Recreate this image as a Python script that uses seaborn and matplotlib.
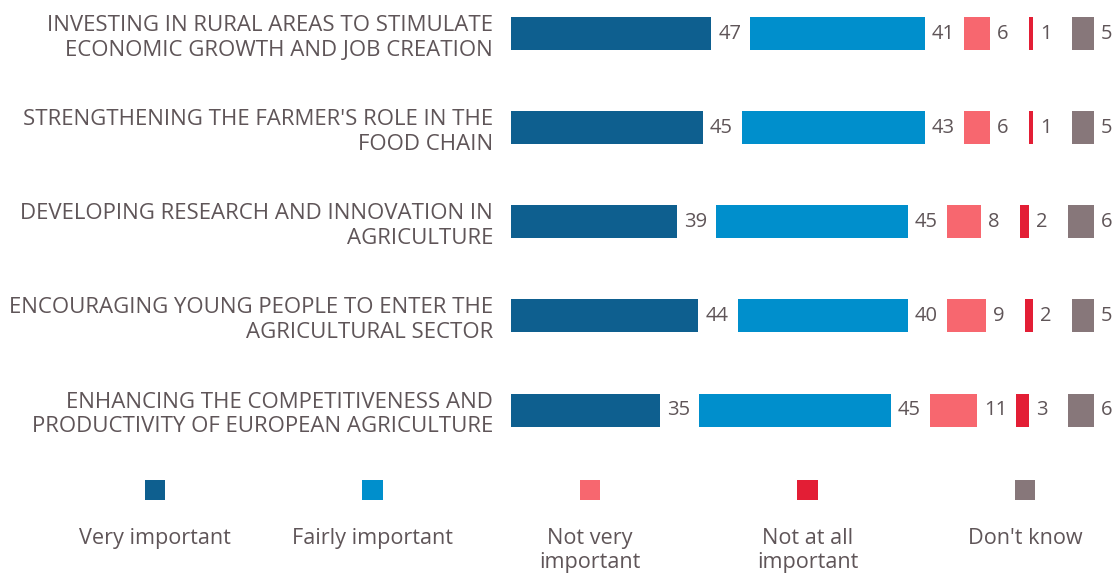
import matplotlib
matplotlib.use("Agg")
import matplotlib.pyplot as plt
import seaborn as sns
import numpy as np

categories = [
    "INVESTING IN RURAL AREAS TO STIMULATE\nECONOMIC GROWTH AND JOB CREATION",
    "STRENGTHENING THE FARMER'S ROLE IN THE\nFOOD CHAIN",
    "DEVELOPING RESEARCH AND INNOVATION IN\nAGRICULTURE",
    "ENCOURAGING YOUNG PEOPLE TO ENTER THE\nAGRICULTURAL SECTOR",
    "ENHANCING THE COMPETITIVENESS AND\nPRODUCTIVITY OF EUROPEAN AGRICULTURE",
]
series_names = ["Very important", "Fairly important", "Not very\nimportant",
                "Not at all\nimportant", "Don't know"]
very_important = [47, 45, 39, 44, 35]
fairly_important = [41, 43, 45, 40, 45]
not_very_important = [6, 6, 8, 9, 11]
not_at_all_important = [1, 1, 2, 2, 3]
dont_know = [5, 5, 6, 5, 6]

colors = ["#0e5f8f", "#008fcc", "#f7676f", "#e31e35", "#87777a"]
text_color = "#5f5558"

sns.set_theme(style="white")
plt.rcParams["font.family"] = ["Open Sans", "DejaVu Sans"]

W, H = 1119, 573
fig = plt.figure(figsize=(W / 100, H / 100), dpi=100)

px_per_unit = 4.26
x0_px = 511
gap = 9.2
ax = fig.add_axes([x0_px / W, (H - 460) / H, (W - x0_px) / W, 460 / H])

all_series = [very_important, fairly_important, not_very_important,
              not_at_all_important, dont_know]
cum = np.zeros(len(categories))
for k, (vals, col) in enumerate(zip(all_series, colors)):
    lefts = cum + k * gap
    sns.barplot(x=vals, y=categories, orient="h", left=lefts, color=col,
                width=0.35, saturation=1, errorbar=None, ax=ax,
                linewidth=0)
    cum = cum + np.array(vals)

for cont, vals in zip(ax.containers, all_series):
    ax.bar_label(cont, labels=[str(v) for v in vals], padding=5,
                 color=text_color, fontsize=14.5)

ax.set_xlim(0, (W - x0_px) / px_per_unit)
ax.set_ylim(4.53, -0.356)
ax.set_xlabel("")
ax.set_ylabel("")
ax.set_xticks([])
ax.tick_params(axis="y", length=0, pad=13)
for lab in ax.get_yticklabels():
    lab.set_fontsize(16.0)
    lab.set_color(text_color)
    lab.set_multialignment("right")
    lab.set_linespacing(1.24)
sns.despine(ax=ax, left=True, bottom=True)

# legend row
lax = fig.add_axes([0, 0, 1, 120 / H])
centers = np.arange(len(series_names))
lax.set_xlim(-155 / 217.5, (W - 155) / 217.5)
lax.set_ylim(0, 120)
lax.scatter(centers, [83] * len(centers), marker="s", s=225,
            c=colors, linewidths=0)
for i, name in enumerate(series_names):
    lax.text(centers[i], 45, name, ha="center", va="top", fontsize=15.6,
             color=text_color, linespacing=1.2)
lax.axis("off")

fig.savefig("out.png", dpi=100)
